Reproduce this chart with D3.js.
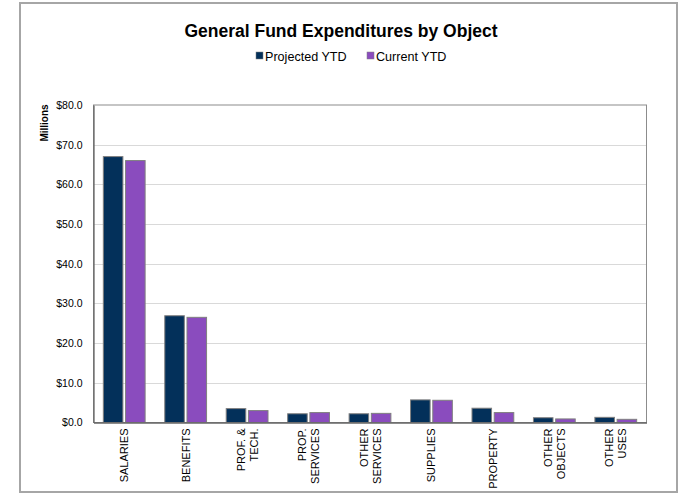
<!DOCTYPE html>
<html>
<head>
<meta charset="utf-8">
<script src="https://cdn.jsdelivr.net/npm/d3@7/dist/d3.min.js"></script>
<style>
  html, body { margin: 0; padding: 0; background: #fff; }
  svg { display: block; font-family: "Liberation Sans", Arial, sans-serif; }
</style>
</head>
<body>
<svg id="chart" width="686" height="494"></svg>
<script>
const categories = ["SALARIES", "BENEFITS", "PROF. &\nTECH.", "PROP.\nSERVICES", "OTHER\nSERVICES", "SUPPLIES", "PROPERTY", "OTHER\nOBJECTS", "OTHER\nUSES"];
const seriesNames = ["Projected YTD", "Current YTD"];
const projectedYTD = [67.0, 26.9, 3.5, 2.2, 2.2, 5.7, 3.6, 1.2, 1.3];
const currentYTD   = [66.0, 26.5, 3.0, 2.5, 2.3, 5.6, 2.5, 0.9, 0.8];
const yTicks = [0, 10, 20, 30, 40, 50, 60, 70, 80];
const colors = ["#03305A", "#8A4CBE"];

const svg = d3.select("#chart");
const margin = { left: 93.5, right: 686 - 646.5, top: 105, bottom: 494 - 422.5 };
const W = 686, H = 494;

// outer frame
svg.append("rect").attr("x", 20).attr("y", 3).attr("width", 657).attr("height", 489)
  .attr("fill", "#fff").attr("stroke", "#a6a6a6").attr("stroke-width", 2);

const x0 = d3.scaleBand().domain(d3.range(categories.length))
  .range([margin.left, W - margin.right]).paddingInner(0.32).paddingOuter(0.16);
const x1 = d3.scaleBand().domain([0, 1]).range([0, x0.bandwidth()]).paddingInner(0.12);
const y = d3.scaleLinear().domain([0, 80]).range([H - margin.bottom, margin.top]);

// gridlines
svg.append("g").selectAll("line").data(yTicks.filter(d => d > 0 && d < 80)).join("line")
  .attr("x1", margin.left).attr("x2", W - margin.right)
  .attr("y1", d => Math.round(y(d)) + 0.5).attr("y2", d => Math.round(y(d)) + 0.5)
  .attr("stroke", "#d9d9d9").attr("stroke-width", 1);

// plot border
svg.append("rect").attr("x", margin.left).attr("y", margin.top)
  .attr("width", W - margin.right - margin.left).attr("height", y(0) - margin.top)
  .attr("fill", "none").attr("stroke", "#8c8c8c").attr("stroke-width", 1);

// bars
const data = categories.map((c, i) => ({ i, vals: [projectedYTD[i], currentYTD[i]] }));
const groups = svg.append("g").selectAll("g").data(data).join("g")
  .attr("transform", d => `translate(${x0(d.i)},0)`);
groups.selectAll("rect").data(d => d.vals.map((v, k) => ({ k, v }))).join("rect")
  .attr("x", d => x1(d.k)).attr("width", x1.bandwidth())
  .attr("y", d => y(d.v)).attr("height", d => y(0) - y(d.v))
  .attr("fill", d => colors[d.k]).attr("stroke", "#7f7f7f").attr("stroke-width", 1);

// y axis
const yAxis = d3.axisLeft(y).tickValues(yTicks).tickSize(0).tickPadding(11)
  .tickFormat(d => "$" + d3.format(".1f")(d));
const ya = svg.append("g").attr("transform", `translate(${margin.left},0)`).call(yAxis);
ya.select(".domain").attr("stroke", "#666").attr("stroke-width", 1.3);
ya.selectAll("text").attr("font-size", 10.5).attr("fill", "#000")
  .attr("font-family", "'Liberation Sans', Arial, sans-serif");

// x axis
const xa = svg.append("g").attr("transform", `translate(0,${y(0)})`)
  .call(d3.axisBottom(x0).tickSize(0).tickFormat(""));
xa.select(".domain").attr("stroke", "#666").attr("stroke-width", 1.3);

// category labels (rotated)
const lab = svg.append("g").selectAll("text").data(categories).join("text")
  .attr("transform", (d, i) => `translate(${x0(i) + x0.bandwidth() / 2},${y(0) + 6}) rotate(-90)`)
  .attr("text-anchor", "end").attr("font-size", 11).attr("fill", "#000");
lab.each(function(d) {
  const lines = d.split("\n");
  const n = lines.length;
  d3.select(this).selectAll("tspan").data(lines).join("tspan")
    .attr("x", 0)
    .attr("dy", (l, j) => j === 0 ? (4 - (n - 1) * 6.5) : 13)
    .text(l => l);
});

// y axis title
svg.append("text").attr("transform", "translate(48,123) rotate(-90)")
  .attr("text-anchor", "middle").attr("font-size", 10).attr("font-weight", "bold")
  .attr("fill", "#000").text("Millions");

// title
svg.append("text").attr("x", 341).attr("y", 37).attr("text-anchor", "middle")
  .attr("font-size", 17.5).attr("font-weight", "bold").attr("fill", "#000")
  .text("General Fund Expenditures by Object");

// legend
const legendX = [256, 367];
const leg = svg.append("g").selectAll("g").data(seriesNames).join("g")
  .attr("transform", (d, i) => `translate(${legendX[i]},61)`);
leg.append("rect").attr("x", 0).attr("y", -9).attr("width", 7).attr("height", 7)
  .attr("fill", (d, i) => colors[i]).attr("stroke", "#7f7f7f").attr("stroke-width", 0.5);
leg.append("text").attr("x", 9).attr("y", 0).attr("font-size", 12.6).attr("fill", "#000").text(d => d);
</script>
</body>
</html>
